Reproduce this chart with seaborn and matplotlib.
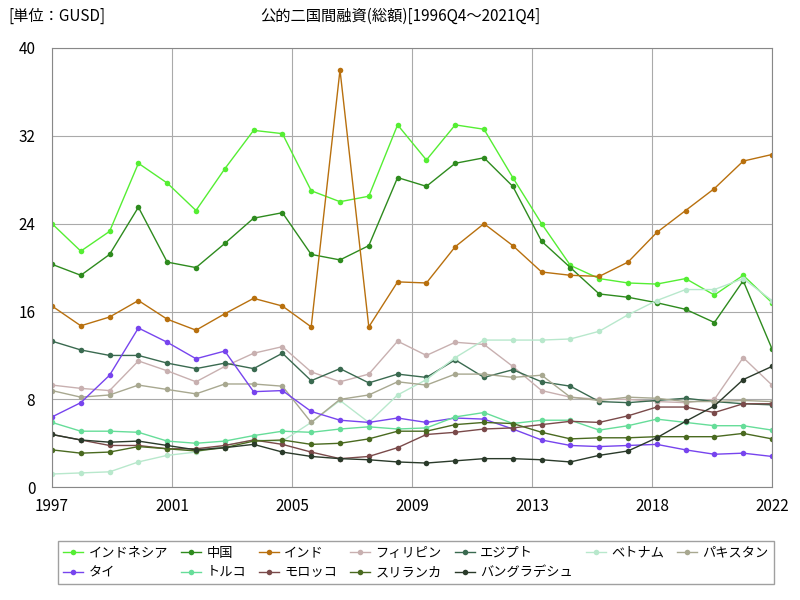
import matplotlib
matplotlib.use("Agg")
import matplotlib.pyplot as plt
import seaborn as sns
import pandas as pd
import numpy as np

plt.rcParams["font.family"] = "Noto Sans CJK JP"

years = list(range(1997, 2023))
series = {
"インドネシア": [24,21.5,23.3,29.5,27.7,25.2,29,32.5,32.2,27,26,26.5,33,29.8,33,32.6,28.2,24,20.2,19,18.6,18.5,19,17.5,19.3,16.8],
"中国": [20.3,19.3,21.2,25.5,20.5,20,22.2,24.5,25,21.2,20.7,22,28.2,27.4,29.5,30,27.4,22.4,20,17.6,17.3,16.8,16.2,15,18.8,12.6],
"インド": [16.5,14.7,15.5,17,15.3,14.3,15.8,17.2,16.5,14.6,38,14.6,18.7,18.6,21.9,24,22,19.6,19.3,19.2,20.5,23.2,25.2,27.2,29.7,30.3],
"フィリピン": [9.3,9,8.8,11.5,10.6,9.6,11,12.2,12.8,10.5,9.6,10.3,13.3,12,13.2,13,11,8.8,8.2,8,8,7.8,7.7,8,11.8,9.3],
"エジプト": [13.3,12.5,12,12,11.3,10.8,11.3,10.8,12.2,9.7,10.8,9.5,10.3,10,11.6,10,10.7,9.6,9.2,7.8,7.7,7.9,8.1,7.8,7.6,7.5],
"ベトナム": [1.2,1.3,1.4,2.3,2.9,3.2,3.8,4.3,4.2,5.9,7.9,5.9,8.4,9.8,11.8,13.4,13.4,13.4,13.5,14.2,15.7,17,18,18,19,17],
"パキスタン": [8.8,8.2,8.4,9.3,8.9,8.5,9.4,9.4,9.2,5.9,8,8.4,9.6,9.3,10.3,10.3,10,10.2,8.2,7.9,8.2,8.1,7.8,7.8,7.9,7.8],
"タイ": [6.4,7.7,10.2,14.5,13.2,11.7,12.4,8.7,8.8,6.9,6.1,5.9,6.3,5.9,6.3,6.2,5.3,4.3,3.8,3.7,3.8,3.9,3.4,3,3.1,2.8],
"トルコ": [5.9,5.1,5.1,5,4.2,4,4.2,4.7,5.1,5,5.3,5.5,5.3,5.4,6.4,6.8,5.8,6.1,6.1,5.2,5.6,6.2,5.9,5.6,5.6,5.2],
"モロッコ": [4.8,4.3,3.8,3.8,3.5,3.5,3.8,4.3,3.9,3.2,2.6,2.8,3.6,4.8,5,5.3,5.4,5.7,6,5.9,6.5,7.3,7.3,6.8,7.6,7.6],
"スリランカ": [3.4,3.1,3.2,3.7,3.5,3.3,3.6,4.2,4.3,3.9,4,4.4,5.1,5.1,5.7,5.9,5.8,5,4.4,4.5,4.5,4.6,4.6,4.6,4.9,4.4],
"バングラデシュ": [4.8,4.3,4.1,4.2,3.8,3.4,3.6,3.9,3.2,2.8,2.6,2.5,2.3,2.2,2.4,2.6,2.6,2.5,2.3,2.9,3.3,4.5,6,7.4,9.8,11],
}
colors = ["#55ee33","#2e8b1e","#b8700e","#c8b0b0","#3a6a50","#b8e8cc","#a8a890","#7744ee","#66dd99","#7a4a4a","#4a6a20","#2a3a2a"]
tick_labels = ["1997","2001","2005","2009","2013","2018","2022"]

df = pd.DataFrame([(y, k, v) for k, vals in series.items() for y, v in zip(years, vals)],
                  columns=["year", "country", "value"])

fig = plt.figure(figsize=(8, 6), dpi=100)
ax = fig.add_axes([0.065, 0.188, 0.9, 0.732])
sns.lineplot(data=df, x="year", y="value", hue="country", palette=colors,
             marker="o", markersize=4, markeredgewidth=0, linewidth=1, ax=ax)
ax.set_xlim(1997, 2022)
ax.set_ylim(0, 40)
ax.set_yticks([0, 8, 16, 24, 32, 40])
ax.set_xticks(np.linspace(1997, 2022, 7))
ax.set_xticklabels(tick_labels)
ax.tick_params(labelsize=11, length=0)
ax.tick_params(axis="x", pad=8)
ax.tick_params(axis="y", pad=12)
ax.grid(True, color="#aaaaaa", linewidth=0.8)
ax.set_xlabel(""); ax.set_ylabel("")
for s in ax.spines.values():
    s.set_color("#888888")
ax.legend_.remove()
h, l = ax.get_legend_handles_labels()
order = [0, 7, 1, 8, 2, 9, 3, 10, 4, 11, 5, 6]
fig.legend([h[i] for i in order], [l[i] for i in order], loc="lower center",
           bbox_to_anchor=(0.52, 0.015), ncol=7,
           fontsize=9.5, frameon=True, edgecolor="#888888", handlelength=1.5,
           columnspacing=1.0, handletextpad=0.4, fancybox=False)
fig.text(0.5, 0.965, "公的二国間融資(総額)[1996Q4～2021Q4]", ha="center", fontsize=11)
fig.text(0.01, 0.965, "[単位：GUSD]", ha="left", fontsize=11)
fig.savefig("out.png", dpi=100)
